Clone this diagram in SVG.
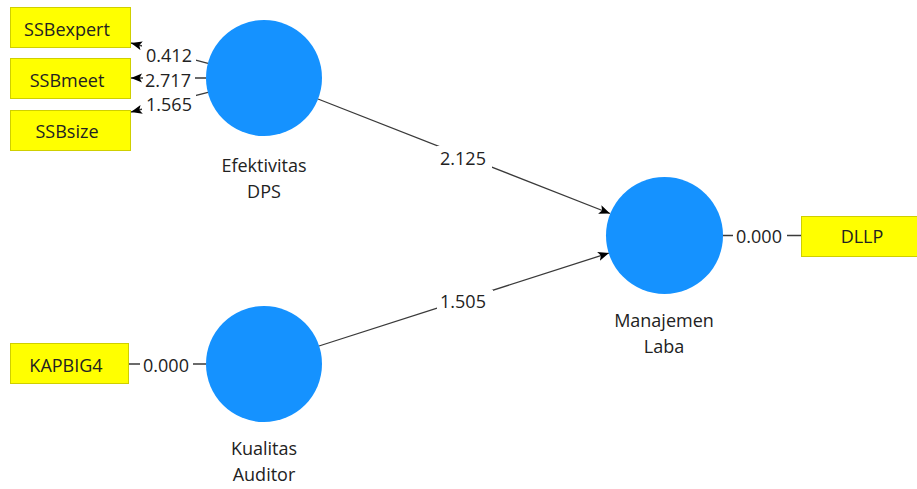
<svg xmlns="http://www.w3.org/2000/svg" width="917" height="489" viewBox="0 0 917 489">
<defs>
<marker id="arr" markerWidth="12" markerHeight="10" refX="11" refY="4.5" orient="auto" markerUnits="userSpaceOnUse"><path d="M0,0 L11,4.5 L0,9 L2.5,4.5 z" fill="#000"/></marker>
</defs>
<style>
.lv{fill:#1592FF}
.ind{fill:#FFFF00;stroke:#CFCF00;stroke-width:1}
text{font-family:"Open Sans","Noto Sans",sans-serif;font-size:18px;fill:#222;text-anchor:middle}
.edge{stroke:#3a3a3a;stroke-width:1.3;fill:none}
.bg{fill:#fff}
</style>
<rect x="0" y="0" width="917" height="489" fill="#fff"/>
<g id="connectors">
<path class="edge" d="M208,63.3 L131,43" marker-end="url(#arr)"/>
<path class="edge" d="M206,78 L131,78" marker-end="url(#arr)"/>
<path class="edge" d="M208,92.3 L131,112" marker-end="url(#arr)"/>
<path class="edge" d="M206,364 L128,364"/>
<path class="edge" d="M723,235.5 L801,235.5"/>
<path class="edge" d="M318,99 L610,213.5" marker-end="url(#arr)"/>
<path class="edge" d="M319,346 L609,253" marker-end="url(#arr)"/>
<rect class="bg" x="142" y="44" width="54" height="20"/>
<rect class="bg" x="143" y="69" width="52" height="19"/>
<rect class="bg" x="142" y="94" width="54" height="19"/>
<rect class="bg" x="140" y="354" width="53" height="20"/>
<rect class="bg" x="733" y="226" width="54" height="20"/>
<rect class="bg" x="437" y="146" width="55" height="22"/>
<rect class="bg" x="437" y="290" width="56" height="20"/>
<text x="169" y="62">0.412</text>
<text x="168" y="87">2.717</text>
<text x="169" y="111">1.565</text>
<text x="166" y="372">0.000</text>
<text x="759" y="243">0.000</text>
<text x="463" y="165">2.125</text>
<text x="463" y="308">1.505</text>
</g>
<g id="efektivitas-dps">
<circle class="lv" cx="264" cy="78" r="58"/>
<text x="264" y="172">Efektivitas</text>
<text x="264" y="198">DPS</text>
</g>
<g id="kualitas-auditor">
<circle class="lv" cx="264" cy="364" r="58"/>
<text x="264" y="455">Kualitas</text>
<text x="264" y="481">Auditor</text>
</g>
<g id="manajemen-laba">
<circle class="lv" cx="664.5" cy="235.5" r="58.5"/>
<text x="664" y="327">Manajemen</text>
<text x="664" y="353">Laba</text>
</g>
<g id="ssbexpert">
<rect class="ind" x="10.5" y="7.5" width="120" height="40"/>
<text x="67" y="36">SSBexpert</text>
</g>
<g id="ssbmeet">
<rect class="ind" x="10.5" y="58.5" width="120" height="40"/>
<text x="67" y="87">SSBmeet</text>
</g>
<g id="ssbsize">
<rect class="ind" x="10.5" y="110.5" width="120" height="40"/>
<text x="67" y="138">SSBsize</text>
</g>
<g id="kapbig4">
<rect class="ind" x="10.5" y="343.5" width="118" height="40"/>
<text x="66" y="372">KAPBIG4</text>
</g>
<g id="dllp">
<rect class="ind" x="801.5" y="216.5" width="120" height="40"/>
<text x="862" y="243">DLLP</text>
</g>
</svg>
